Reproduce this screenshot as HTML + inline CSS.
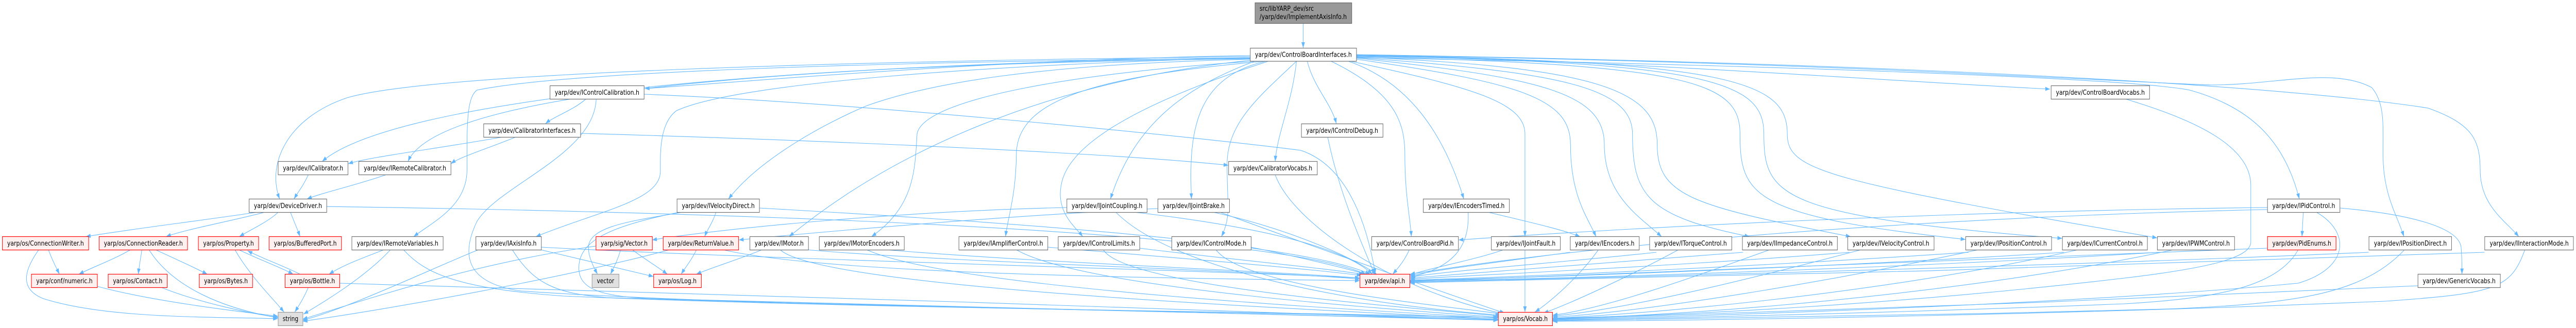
<!DOCTYPE html>
<html><head><meta charset="utf-8">
<meta name="viewport" content="width=device-width, initial-scale=1">
<style>
html,body{margin:0;padding:0;background:#fff;width:100%;height:100%;overflow:hidden;}
svg{display:block;width:100vw;height:100vh;position:absolute;left:0;top:0;}
.e{fill:none;stroke:#63b8ff;stroke-width:1.1;}
.n{fill:#fff;stroke:#6f6f6f;stroke-width:1.2;}
.r{fill:#fff0f0;stroke:#ff0000;stroke-width:1.2;}
.g{fill:#e0e0e0;stroke:#999;stroke-width:1.2;}
.t{fill:#999;stroke:#666;stroke-width:1.2;}
text{font-family:"DejaVu Sans","Liberation Sans",sans-serif;font-size:13px;fill:#000;}
.c{text-anchor:middle;}
</style></head>
<body>
<svg viewBox="0 0 5941 637" preserveAspectRatio="none" xmlns="http://www.w3.org/2000/svg" overflow="hidden">
<defs>
<marker id="a" viewBox="0 0 11 8" refX="11" refY="4" markerWidth="11" markerHeight="8" markerUnits="userSpaceOnUse" orient="auto">
<path d="M0,0 L11,4 L0,8 z" fill="#63b8ff"/>
</marker>
</defs>
<g class="e" marker-end="url(#a)">
<path d="M3005.5,45 L3005.5,93"/>
<path d="M2883,108 C2300,115 1700,160 1487,172"/>
<path d="M3128,108 C3700,115 4400,160 4728,173"/>
<path d="M3015,119 C3030,170 3070,200 3082,240"/>
<path d="M2990,119 C2980,200 2945,260 2941,313.5"/>
<path d="M2883,112 C1700,125 900,200 743,313.5"/>
<path d="M2883,114 C1800,125 1010,180 941,313.5"/>
<path d="M2883,110 C2000,118 1000,140 800,190 C660,230 615,320 645,386.5"/>
<path d="M2883,115 C2400,125 2150,160 2000,205 C1900,240 1750,310 1680,386.5"/>
<path d="M2893,119 C2750,165 2620,230 2561,386.5"/>
<path d="M2919,119 C2760,150 2740,250 2748,386.5"/>
<path d="M3110,119 C3250,160 3330,260 3376,386.5"/>
<path d="M3128,112 C4000,125 4900,150 5050,175 C5200,210 5270,280 5303,386.5"/>
<path d="M2883,113 C2000,120 1300,140 1100,175 C1075,190 1077,250 1077,330 C1077,400 1000,430 954,459.5"/>
<path d="M2883,112 C2300,125 1700,160 1560,215 C1520,240 1523,300 1523,333 C1523,390 1380,410 1236,459.5"/>
<path d="M2884,117 C2400,160 2050,300 1820,459.5"/>
<path d="M2893,119 C2500,140 2130,190 2115,260 C2110,330 2110,400 2010,459.5"/>
<path d="M2915,119 C2500,150 2345,200 2344,300 C2343,380 2325,420 2319,459.5"/>
<path d="M2925,119 C2700,180 2480,260 2450,350 C2430,410 2480,440 2497,459.5"/>
<path d="M2990,119 C2900,190 2830,240 2830,320 C2830,400 2840,420 2817,459.5"/>
<path d="M3070,119 C3220,180 3240,240 3240,300 C3240,380 3252,420 3255,459.5"/>
<path d="M3115,119 C3400,170 3517,200 3517,260 L3517,459.5"/>
<path d="M3128,115 C3500,160 3622,190 3622,280 C3622,380 3660,420 3681,459.5"/>
<path d="M3128,113 C3550,150 3700,180 3700,280 C3700,380 3780,420 3832,459.5"/>
<path d="M3128,112 C3600,140 3765,170 3765,260 C3765,380 3800,420 4035,459.5"/>
<path d="M3128,111 C3700,130 3822,180 3822,280 C3822,380 3900,400 4268,459.5"/>
<path d="M3128,110 C3900,125 4013,160 4013,260 C4013,380 4040,420 4533,465"/>
<path d="M3128,109 C3950,120 4068,160 4068,260 C4068,380 4100,420 4756,463"/>
<path d="M3128,108 C4000,118 4122,160 4122,260 C4122,330 4200,350 4975,462"/>
<path d="M3128,107 C4200,120 4900,160 5100,165 C5250,165 5380,130 5470,170 C5500,200 5496,240 5496,300 C5496,380 5530,420 5544,459.5"/>
<path d="M3128,106 C4500,125 5300,170 5600,210 C5700,240 5720,270 5720,330 C5720,400 5780,430 5809,459.5"/>
<path d="M1351,192.5 C1320,215 1280,225 1258,240"/>
<path d="M1485,183 C2000,200 2800,270 3000,292 C3100,320 3150,420 3172,532.5"/>
<path d="M1375,192.5 C1370,300 1150,360 1100,430 C1060,500 1080,550 1200,565 C1800,600 3000,605 3455,617"/>
<path d="M1160,266 C1000,290 850,305 803,318"/>
<path d="M1190,266 C1120,290 1060,305 1040,318"/>
<path d="M1339,259 C2000,275 2600,300 2833,321"/>
<path d="M711,339.5 C700,360 688,372 678,386.5"/>
<path d="M890,339.5 C820,360 740,375 708,386.5"/>
<path d="M753,401 C1500,410 2900,440 3150,532.5"/>
<path d="M590,412.5 C450,430 300,445 198,459.5"/>
<path d="M609,412.5 C530,430 430,445 383,459.5"/>
<path d="M641,412.5 C620,430 580,445 552,459.5"/>
<path d="M670,412.5 C678,430 686,445 692,459.5"/>
<path d="M884,485.5 C840,500 790,515 759,532.5"/>
<path d="M900,485.5 C840,540 740,590 700,610"/>
<path d="M931,485.5 C980,530 1050,560 1300,575 C2000,600 3000,605 3455,620"/>
<path d="M542,485.5 C580,540 630,580 655,606"/>
<path d="M552,485.5 C600,505 650,520 676,532.5"/>
<path d="M692,532.5 C650,515 600,500 571,487"/>
<path d="M711,558.5 C700,580 688,595 680,606"/>
<path d="M783,550 C1200,560 2800,600 3455,622"/>
<path d="M112,485.5 C120,505 130,520 137,532.5"/>
<path d="M89,485.5 C60,520 40,560 100,580 C250,620 500,615 641,619"/>
<path d="M300,485.5 C260,505 210,520 182,532.5"/>
<path d="M327,485.5 C325,500 321,515 319,532.5"/>
<path d="M344,485.5 C400,560 520,600 641,617"/>
<path d="M360,485.5 C410,505 450,520 478,532.5"/>
<path d="M224,556 C350,585 550,605 641,614"/>
<path d="M373,558.5 C450,585 580,610 641,616"/>
<path d="M1102,485.5 C1000,520 800,600 698,622"/>
<path d="M1249,485.5 C1350,505 1450,525 1507,537"/>
<path d="M1248,480 C1800,505 2800,525 3136,540"/>
<path d="M1182,485.5 C1230,550 1280,570 1400,578 C2200,600 3100,610 3455,621"/>
<path d="M1431,485.5 C1425,505 1415,520 1408,532.5"/>
<path d="M1459,485.5 C1490,505 1520,520 1539,532.5"/>
<path d="M1374,478 C1100,510 850,580 698,620"/>
<path d="M1606,485.5 C1595,505 1580,520 1571,532.5"/>
<path d="M1542,485.5 C1300,540 900,600 698,624"/>
<path d="M1670,485.5 C1900,530 2600,540 3136,545"/>
<path d="M1651,412.5 C1645,430 1632,445 1625,459.5"/>
<path d="M1571,412.5 C1450,430 1360,440 1357,480 C1357,500 1370,520 1378,532.5"/>
<path d="M1565,412.5 C1400,440 1335,470 1335,520 C1335,560 1380,575 1500,580 C2300,600 3100,612 3455,622"/>
<path d="M1751,404 C2300,430 3000,470 3160,532.5"/>
<path d="M1756,485.5 C1700,505 1640,520 1606,532.5"/>
<path d="M1860,485 C2200,510 2900,525 3136,542"/>
<path d="M1800,485.5 C1900,560 3000,600 3455,620"/>
<path d="M2050,485.5 C2400,510 2900,525 3136,540"/>
<path d="M2000,485.5 C2200,560 3100,600 3455,618"/>
<path d="M2416,480 C2700,500 3000,520 3140,535"/>
<path d="M2345,485.5 C2500,560 3200,600 3455,616"/>
<path d="M2628,482 C2850,505 3050,520 3145,533"/>
<path d="M2545,485.5 C2600,560 3300,600 3460,614"/>
<path d="M2885,480 C3000,500 3100,520 3150,532.5"/>
<path d="M2805,485.5 C2870,560 3350,595 3465,610"/>
<path d="M2460,403 C2100,410 1700,440 1504,466"/>
<path d="M2620,412.5 C2900,440 3100,480 3165,532.5"/>
<path d="M2574,412.5 C2700,520 3100,590 3460,612"/>
<path d="M2670,405 C2300,420 1900,450 1704,466"/>
<path d="M2800,412.5 C2950,440 3100,490 3175,532.5"/>
<path d="M2815,412.5 C3000,470 3300,560 3470,608"/>
<path d="M3434,412.5 C3520,430 3600,445 3644,459.5"/>
<path d="M3386,412.5 C3390,480 3350,520 3253,538"/>
<path d="M3250,485.5 C3240,505 3225,520 3212,532.5"/>
<path d="M3466,485.5 C3400,505 3300,520 3252,534"/>
<path d="M3517,485.5 L3517,606"/>
<path d="M3621,490 C3450,510 3300,525 3252,536"/>
<path d="M3686,485.5 C3640,540 3570,590 3540,606"/>
<path d="M3820,490 C3600,510 3350,525 3252,538"/>
<path d="M3870,485.5 C3750,540 3620,590 3560,608"/>
<path d="M4020,490 C3700,510 3400,530 3252,540"/>
<path d="M4080,485.5 C3900,540 3700,600 3581,612"/>
<path d="M4265,490 C3900,515 3500,530 3252,542"/>
<path d="M4290,485.5 C4000,550 3750,600 3581,614"/>
<path d="M4540,490 C4100,515 3600,535 3252,544"/>
<path d="M4560,485.5 C4200,550 3800,605 3581,616"/>
<path d="M4760,490 C4300,515 3700,535 3252,545"/>
<path d="M4790,485.5 C4400,560 3900,605 3581,618"/>
<path d="M4980,490 C4500,515 3800,538 3252,546"/>
<path d="M5010,485.5 C4600,560 4000,610 3581,619"/>
<path d="M5312,412.5 C5311,430 5310,445 5309,459.5"/>
<path d="M5396,404 C5550,415 5670,440 5676,480 C5678,500 5678,520 5678,532.5"/>
<path d="M5229,403 C4500,410 3800,440 3364,466"/>
<path d="M5229,407 C4500,420 3700,470 3252,532.5"/>
<path d="M5343,412.5 C5420,450 5420,520 5300,550 C4800,590 4000,612 3581,621"/>
<path d="M5229,482 C4500,505 3800,530 3252,547"/>
<path d="M5300,485.5 C5250,560 5100,580 4900,590 C4300,610 3800,618 3581,622"/>
<path d="M5463,490 C4800,515 3900,535 3252,548"/>
<path d="M5545,485.5 C5450,570 5300,590 5000,600 C4500,612 3900,620 3581,623"/>
<path d="M5730,490 C5000,515 4000,538 3252,549"/>
<path d="M5823,485.5 C5790,560 5760,570 5500,585 C4800,610 4000,622 3581,624"/>
<path d="M5576,555 C5000,580 4000,610 3581,620"/>
<path d="M4903,192.5 C5050,230 5191,280 5191,360 L5191,470 C5191,500 5100,520 4900,540 C4400,590 3900,612 3581,618"/>
<path d="M2941,339.5 C2980,430 3200,560 3470,610"/>
<path d="M3062,266 C3090,380 3140,470 3170,532.5"/>
</g>

<rect class="t" x="2894.5" y="5.5" width="223" height="40"/>
<text x="2905" y="21" textLength="125" lengthAdjust="spacingAndGlyphs">src/libYARP_dev/src</text>
<text x="2905" y="37" textLength="201" lengthAdjust="spacingAndGlyphs">/yarp/dev/ImplementAxisInfo.h</text>

<rect class="n" x="2883.5" y="93.5" width="245" height="25.5"/>
<text class="c" x="3006" y="110.5" textLength="223" lengthAdjust="spacingAndGlyphs">yarp/dev/ControlBoardInterfaces.h</text>

<rect class="n" x="1268.5" y="166.5" width="217" height="26"/>
<text class="c" x="1377" y="184" textLength="195" lengthAdjust="spacingAndGlyphs">yarp/dev/IControlCalibration.h</text>
<rect class="n" x="4730.5" y="166.5" width="227" height="26"/>
<text class="c" x="4844" y="184" textLength="205" lengthAdjust="spacingAndGlyphs">yarp/dev/ControlBoardVocabs.h</text>

<rect class="n" x="1115.5" y="240.5" width="223.5" height="26"/>
<text class="c" x="1227" y="258" textLength="201" lengthAdjust="spacingAndGlyphs">yarp/dev/CalibratorInterfaces.h</text>
<rect class="n" x="3001.5" y="240.5" width="188" height="26"/>
<text class="c" x="3095.5" y="258" textLength="166" lengthAdjust="spacingAndGlyphs">yarp/dev/IControlDebug.h</text>

<rect class="n" x="641.5" y="313.5" width="161" height="26"/>
<text class="c" x="722" y="331" textLength="139" lengthAdjust="spacingAndGlyphs">yarp/dev/ICalibrator.h</text>
<rect class="n" x="827.5" y="313.5" width="212.5" height="26"/>
<text class="c" x="934" y="331" textLength="190" lengthAdjust="spacingAndGlyphs">yarp/dev/IRemoteCalibrator.h</text>
<rect class="n" x="2833.5" y="313.5" width="204.5" height="26"/>
<text class="c" x="2935.5" y="331" textLength="182" lengthAdjust="spacingAndGlyphs">yarp/dev/CalibratorVocabs.h</text>

<rect class="n" x="574.5" y="386.5" width="179" height="26"/>
<text class="c" x="664" y="404" textLength="157" lengthAdjust="spacingAndGlyphs">yarp/dev/DeviceDriver.h</text>
<rect class="n" x="1561.5" y="386.5" width="190" height="26"/>
<text class="c" x="1656.5" y="404" textLength="168" lengthAdjust="spacingAndGlyphs">yarp/dev/IVelocityDirect.h</text>
<rect class="n" x="2460.5" y="386.5" width="185" height="26"/>
<text class="c" x="2553" y="404" textLength="163" lengthAdjust="spacingAndGlyphs">yarp/dev/IJointCoupling.h</text>
<rect class="n" x="2670.5" y="386.5" width="165" height="26"/>
<text class="c" x="2753" y="404" textLength="143" lengthAdjust="spacingAndGlyphs">yarp/dev/IJointBrake.h</text>
<rect class="n" x="3282.5" y="386.5" width="198.5" height="26"/>
<text class="c" x="3382" y="404" textLength="176" lengthAdjust="spacingAndGlyphs">yarp/dev/IEncodersTimed.h</text>
<rect class="n" x="5229.5" y="386.5" width="167" height="26"/>
<text class="c" x="5313" y="404" textLength="145" lengthAdjust="spacingAndGlyphs">yarp/dev/IPidControl.h</text>

<rect class="r" x="5.5" y="459.5" width="199" height="26"/>
<text class="c" x="105" y="477" textLength="177" lengthAdjust="spacingAndGlyphs">yarp/os/ConnectionWriter.h</text>
<rect class="r" x="228.5" y="459.5" width="204" height="26"/>
<text class="c" x="330.5" y="477" textLength="182" lengthAdjust="spacingAndGlyphs">yarp/os/ConnectionReader.h</text>
<rect class="r" x="457.5" y="459.5" width="139" height="26"/>
<text class="c" x="527" y="477" textLength="117" lengthAdjust="spacingAndGlyphs">yarp/os/Property.h</text>
<rect class="r" x="620.5" y="459.5" width="167" height="26"/>
<text class="c" x="704" y="477" textLength="145" lengthAdjust="spacingAndGlyphs">yarp/os/BufferedPort.h</text>
<rect class="n" x="811.5" y="459.5" width="210.5" height="26"/>
<text class="c" x="917" y="477" textLength="188" lengthAdjust="spacingAndGlyphs">yarp/dev/IRemoteVariables.h</text>
<rect class="n" x="1097.5" y="459.5" width="151" height="26"/>
<text class="c" x="1173" y="477" textLength="129" lengthAdjust="spacingAndGlyphs">yarp/dev/IAxisInfo.h</text>
<rect class="r" x="1374.5" y="459.5" width="130" height="26"/>
<text class="c" x="1439.5" y="477" textLength="108" lengthAdjust="spacingAndGlyphs">yarp/sig/Vector.h</text>
<rect class="r" x="1529.5" y="459.5" width="174" height="26"/>
<text class="c" x="1616.5" y="477" textLength="152" lengthAdjust="spacingAndGlyphs">yarp/dev/ReturnValue.h</text>
<rect class="n" x="1729.5" y="459.5" width="135" height="26"/>
<text class="c" x="1797" y="477" textLength="113" lengthAdjust="spacingAndGlyphs">yarp/dev/IMotor.h</text>
<rect class="n" x="1889.5" y="459.5" width="196" height="26"/>
<text class="c" x="1987.5" y="477" textLength="174" lengthAdjust="spacingAndGlyphs">yarp/dev/IMotorEncoders.h</text>
<rect class="n" x="2211.5" y="459.5" width="205" height="26"/>
<text class="c" x="2314" y="477" textLength="183" lengthAdjust="spacingAndGlyphs">yarp/dev/IAmplifierControl.h</text>
<rect class="n" x="2440.5" y="459.5" width="188" height="26"/>
<text class="c" x="2534.5" y="477" textLength="166" lengthAdjust="spacingAndGlyphs">yarp/dev/IControlLimits.h</text>
<rect class="n" x="2702.5" y="459.5" width="183" height="26"/>
<text class="c" x="2794" y="477" textLength="161" lengthAdjust="spacingAndGlyphs">yarp/dev/IControlMode.h</text>
<rect class="n" x="3163.5" y="459.5" width="200" height="26"/>
<text class="c" x="3263.5" y="477" textLength="178" lengthAdjust="spacingAndGlyphs">yarp/dev/ControlBoardPid.h</text>
<rect class="n" x="3439.5" y="459.5" width="159" height="26"/>
<text class="c" x="3519" y="477" textLength="137" lengthAdjust="spacingAndGlyphs">yarp/dev/IJointFault.h</text>
<rect class="n" x="3621.5" y="459.5" width="159" height="26"/>
<text class="c" x="3701" y="477" textLength="137" lengthAdjust="spacingAndGlyphs">yarp/dev/IEncoders.h</text>
<rect class="n" x="3804.5" y="459.5" width="189.5" height="26"/>
<text class="c" x="3899" y="477" textLength="167" lengthAdjust="spacingAndGlyphs">yarp/dev/ITorqueControl.h</text>
<rect class="n" x="4018.5" y="459.5" width="219" height="26"/>
<text class="c" x="4128" y="477" textLength="197" lengthAdjust="spacingAndGlyphs">yarp/dev/IImpedanceControl.h</text>
<rect class="n" x="4261.5" y="459.5" width="199" height="26"/>
<text class="c" x="4361" y="477" textLength="177" lengthAdjust="spacingAndGlyphs">yarp/dev/IVelocityControl.h</text>
<rect class="n" x="4533.5" y="459.5" width="198" height="26"/>
<text class="c" x="4632.5" y="477" textLength="176" lengthAdjust="spacingAndGlyphs">yarp/dev/IPositionControl.h</text>
<rect class="n" x="4756.5" y="459.5" width="196" height="26"/>
<text class="c" x="4854.5" y="477" textLength="174" lengthAdjust="spacingAndGlyphs">yarp/dev/ICurrentControl.h</text>
<rect class="n" x="4975.5" y="459.5" width="178" height="26"/>
<text class="c" x="5064.5" y="477" textLength="156" lengthAdjust="spacingAndGlyphs">yarp/dev/IPWMControl.h</text>
<rect class="r" x="5229.5" y="459.5" width="158" height="26"/>
<text class="c" x="5308.5" y="477" textLength="136" lengthAdjust="spacingAndGlyphs">yarp/dev/PidEnums.h</text>
<rect class="n" x="5463.5" y="459.5" width="190.5" height="26"/>
<text class="c" x="5559" y="477" textLength="168" lengthAdjust="spacingAndGlyphs">yarp/dev/IPositionDirect.h</text>
<rect class="n" x="5730.5" y="459.5" width="204.5" height="26"/>
<text class="c" x="5833" y="477" textLength="182" lengthAdjust="spacingAndGlyphs">yarp/dev/IInteractionMode.h</text>

<rect class="r" x="72.5" y="532.5" width="152" height="26"/>
<text class="c" x="148.5" y="550" textLength="130" lengthAdjust="spacingAndGlyphs">yarp/conf/numeric.h</text>
<rect class="r" x="249.5" y="532.5" width="136" height="26"/>
<text class="c" x="317.5" y="550" textLength="114" lengthAdjust="spacingAndGlyphs">yarp/os/Contact.h</text>
<rect class="r" x="459.5" y="532.5" width="123" height="26"/>
<text class="c" x="521" y="550" textLength="101" lengthAdjust="spacingAndGlyphs">yarp/os/Bytes.h</text>
<rect class="r" x="657.5" y="532.5" width="126" height="26"/>
<text class="c" x="720.5" y="550" textLength="104" lengthAdjust="spacingAndGlyphs">yarp/os/Bottle.h</text>
<rect class="g" x="1365.5" y="532.5" width="62" height="26"/>
<text class="c" x="1396.5" y="550" textLength="40" lengthAdjust="spacingAndGlyphs">vector</text>
<rect class="r" x="1507.5" y="532.5" width="110" height="26"/>
<text class="c" x="1562.5" y="550" textLength="88" lengthAdjust="spacingAndGlyphs">yarp/os/Log.h</text>
<rect class="r" x="3136.5" y="532.5" width="115" height="26"/>
<text class="c" x="3194" y="550" textLength="93" lengthAdjust="spacingAndGlyphs">yarp/dev/api.h</text>
<rect class="n" x="5576.5" y="532.5" width="190" height="26"/>
<text class="c" x="5671.5" y="550" textLength="168" lengthAdjust="spacingAndGlyphs">yarp/dev/GenericVocabs.h</text>

<rect class="g" x="641.5" y="606.5" width="57" height="26"/>
<text class="c" x="670" y="623.5" textLength="36" lengthAdjust="spacingAndGlyphs">string</text>
<rect class="r" x="3455.5" y="606.5" width="125" height="26"/>
<text class="c" x="3518" y="623.5" textLength="103" lengthAdjust="spacingAndGlyphs">yarp/os/Vocab.h</text>
</svg>
</body></html>
